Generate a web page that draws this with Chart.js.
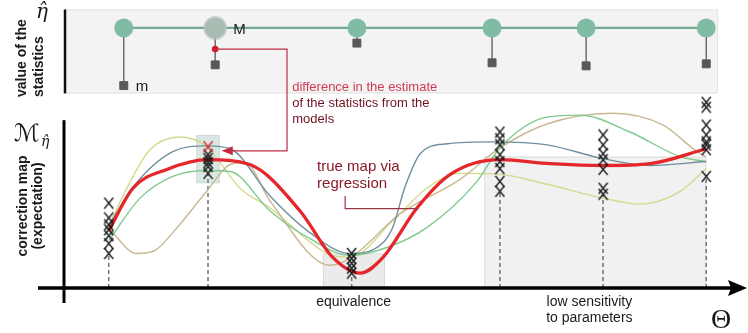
<!DOCTYPE html>
<html>
<head>
<meta charset="utf-8">
<script src="https://cdn.jsdelivr.net/npm/chart.js@4/dist/chart.umd.min.js"></script>
<style>
  html, body { margin: 0; padding: 0; background: #fff; }
  canvas { display: block; }
</style>
</head>
<body>
<canvas id="myChart" width="748" height="333"></canvas>
<script>
// parameter values where the models were run, and the replicas of the correction at each
const thetaSamples = [6.7, 21.9, 43.9, 66.6, 82.4, 98.2];
const replicaValues = [
    [49.7, 41.0, 37.0, 34.1, 30.6, 26.0, 20.2],
    [78.0, 75.7, 73.4, 71.1, 67.1],
    [20.2, 17.3, 14.5, 11.6, 8.7],
    [91.3, 87.3, 83.8, 78.0, 74.0, 69.9, 62.4, 56.6],
    [89.6, 83.8, 78.6, 75.1, 69.4, 58.4, 54.9],
    [108.7, 105.8, 95.4, 89.6, 85.5, 83.8, 80.9, 65.3]
];
const flaggedReplica = [21.9, 82.7];

// true map via regression  [theta, value]
const trueMap = [[6.7, 33.5], [10.4, 58.4], [15.6, 69.4], [21.9, 75.1], [28.3, 72.3], [36.0, 45.1],
    [41.0, 17.9], [45.2, 8.7], [48.7, 17.9], [53.9, 46.8], [59.0, 66.5], [66.6, 75.1],
    [74.3, 72.8], [82.4, 71.7], [89.6, 72.8], [98.2, 81.5]];

// single model fits
const fitSlate = [[6.7, 36.4], [10.4, 59.0], [16.5, 79.8], [21.7, 83.2], [25.3, 81.5], [31.4, 53.8],
    [37.5, 32.4], [43.6, 20.2], [47.5, 23.1], [50.1, 34.7], [52.1, 59.5], [54.4, 78.6],
    [58.5, 84.4], [65.5, 85.5], [73.8, 83.8], [82.4, 75.7], [89.6, 71.7], [98.2, 74.0]];
const fitGreen = [[6.7, 27.7], [11.5, 52.6], [16.5, 65.3], [21.7, 68.8], [25.3, 68.2], [31.4, 45.1],
    [37.5, 28.9], [43.6, 19.1], [49.3, 23.7], [55.4, 35.3], [63.1, 62.4], [66.6, 82.0],
    [73.8, 100.0], [78.9, 101.2], [86.5, 91.3], [94.2, 76.9], [98.2, 74.0]];
const fitSand = [[6.7, 34.7], [11.0, 20.2], [13.8, 22.0], [16.5, 32.4], [21.7, 56.6], [25.3, 72.3],
    [27.6, 73.4], [31.4, 50.9], [40.6, 13.3], [43.6, 17.3], [51.3, 43.4], [60.5, 63.6],
    [66.6, 82.0], [73.8, 96.0], [83.9, 102.3], [91.6, 95.4], [96.8, 79.8], [98.2, 76.9]];
const fitPale = [[6.7, 36.4], [10.0, 62.4], [13.0, 80.9], [17.6, 88.4], [21.7, 82.7], [26.8, 58.4],
    [31.4, 46.8], [40.1, 20.2], [43.6, 17.9], [50.2, 39.3], [55.4, 58.4], [60.5, 67.1],
    [66.6, 66.5], [73.8, 60.7], [82.4, 52.6], [88.1, 49.1], [94.2, 56.6], [98.2, 69.9]];

// value of the statistics (top panel)
const statTheta = [9.0, 23.0, 44.7, 65.4, 79.8, 98.2];
const statModels = [7.8, 7.8, 7.8, 7.8, 7.8, 7.8];   // M
const statData = [0.94, 3.41, 6.0, 3.65, 3.29, 3.53]; // m
const statDifference = [23.0, 5.29];

// shaded zones and their notes
const zones = [
    { from: 20.1, to: 23.7, low: 61.3, high: 89.6, fill: 'rgba(188,214,204,0.55)' },
    { from: 39.5, to: 49.0, low: 0, high: 20.2, fill: 'rgba(222,222,222,0.6)', text: ['equivalence'], at: 44.2 },
    { from: 64.2, to: 98.2, low: 0, high: 76.9, fill: 'rgba(228,228,228,0.5)', text: ['low sensitivity', 'to parameters'], at: 80.3 }
];

const pts = arr => arr.map(p => ({ x: p[0], y: p[1] }));
const replicaPoints = [];
thetaSamples.forEach((t, i) => replicaValues[i].forEach(v => replicaPoints.push({ x: t, y: v })));

// tall "X" marker like the hand drawn crosses
function crossMark(color) {
    const c = document.createElement('canvas');
    c.width = 11; c.height = 13;
    const g = c.getContext('2d');
    g.strokeStyle = color;
    g.lineWidth = 1.3;
    g.beginPath();
    g.moveTo(1, 1); g.lineTo(10, 12);
    g.moveTo(10, 1); g.lineTo(1, 12);
    g.stroke();
    return c;
}

const fitLine = (label, data, color) => ({
    label, data: pts(data), borderColor: color, borderWidth: 1.4,
    pointRadius: 0, cubicInterpolationMode: 'monotone', fill: false, order: 5
});

function seg(ctx, pts, close) {
    ctx.beginPath();
    ctx.moveTo(pts[0][0], pts[0][1]);
    for (let i = 1; i < pts.length; i++) ctx.lineTo(pts[i][0], pts[i][1]);
    if (close) ctx.closePath();
}

const decor = {
    id: 'decor',
    beforeDatasetsDraw(chart) {
        const { ctx } = chart;
        const x = chart.scales.x, y = chart.scales.y, yt = chart.scales.yTop;
        ctx.save();
        // panel of the statistics
        const top = yt.getPixelForValue(10), bot = yt.getPixelForValue(0);
        ctx.fillStyle = '#f3f3f3';
        ctx.fillRect(x.left, top, x.right - x.left, bot - top);
        ctx.strokeStyle = '#e3e3e3';
        ctx.lineWidth = 1;
        ctx.strokeRect(x.left + 0.5, top + 0.5, x.right - x.left - 1, bot - top - 1);
        ctx.strokeStyle = '#111';
        ctx.lineWidth = 2.5;
        seg(ctx, [[x.left, top], [x.left, bot]]);
        ctx.stroke();
        // M -> m stems
        ctx.strokeStyle = '#5a5a5a';
        ctx.lineWidth = 1.3;
        statTheta.forEach((t, i) => {
            const xp = x.getPixelForValue(t);
            seg(ctx, [[xp, yt.getPixelForValue(statModels[i])], [xp, yt.getPixelForValue(statData[i])]]);
            ctx.stroke();
        });
        // zones
        zones.forEach(z => {
            const l = x.getPixelForValue(z.from), r = x.getPixelForValue(z.to);
            const t = y.getPixelForValue(z.high), b = y.getPixelForValue(z.low);
            ctx.fillStyle = z.fill;
            ctx.fillRect(l, t, r - l, b - t);
            ctx.strokeStyle = 'rgba(205,205,205,0.6)';
            ctx.lineWidth = 1;
            ctx.strokeRect(l + 0.5, t + 0.5, r - l - 1, b - t - 1);
        });
        // dashed guides from axis up to replicas
        ctx.strokeStyle = '#7a7a7a';
        ctx.lineWidth = 1.6;
        ctx.setLineDash([4, 3]);
        thetaSamples.forEach((t, i) => {
            const xp = x.getPixelForValue(t);
            seg(ctx, [[xp, y.getPixelForValue(0)], [xp, y.getPixelForValue(Math.min(...replicaValues[i]))]]);
            ctx.stroke();
        });
        ctx.restore();
    },
    afterDatasetsDraw(chart) {
        const { ctx } = chart;
        const x = chart.scales.x, y = chart.scales.y, yt = chart.scales.yTop;
        ctx.save();
        const y0 = y.getPixelForValue(0);
        // axes
        ctx.strokeStyle = '#000';
        ctx.fillStyle = '#000';
        ctx.lineWidth = 3;
        seg(ctx, [[x.left - 1, y.getPixelForValue(100) + 3], [x.left - 1, y0 + 15]]);
        ctx.stroke();
        ctx.lineWidth = 3.5;
        seg(ctx, [[38, y0], [732, y0]]);
        ctx.stroke();
        seg(ctx, [[747, y0], [728, y0 - 8], [731, y0], [728, y0 + 8]], true);
        ctx.fill();

        // difference connector
        const dx = x.getPixelForValue(statDifference[0]), dy = yt.getPixelForValue(statDifference[1]);
        const cx = x.getPixelForValue(34.0), cy = y.getPixelForValue(80.3);
        const tip = x.getPixelForValue(24.0);
        ctx.strokeStyle = '#c42a44';
        ctx.fillStyle = '#c42a44';
        ctx.lineWidth = 1.2;
        seg(ctx, [[dx, dy], [cx, dy], [cx, cy], [tip + 6, cy]]);
        ctx.stroke();
        seg(ctx, [[tip, cy], [tip + 11, cy - 4.5], [tip + 11, cy + 4.5]], true);
        ctx.fill();

        // regression connector
        const rx = x.getPixelForValue(42.9);
        ctx.strokeStyle = '#9a3646';
        seg(ctx, [[rx, y.getPixelForValue(53.8)], [rx, y.getPixelForValue(46.4)], [x.getPixelForValue(54.1), y.getPixelForValue(46.4)]]);
        ctx.stroke();

        // notes
        ctx.textBaseline = 'alphabetic';
        ctx.textAlign = 'left';
        ctx.font = '13px "Liberation Sans", Arial, sans-serif';
        const nx = x.getPixelForValue(34.8), ny = yt.getPixelForValue(0.35);
        ctx.fillStyle = '#d03a55';
        ctx.fillText('difference in the estimate', nx, ny);
        ctx.fillStyle = '#6e1222';
        ctx.fillText('of the statistics from the', nx, ny + 16);
        ctx.fillText('models', nx, ny + 32);

        ctx.font = '15px "Liberation Sans", Arial, sans-serif';
        ctx.fillStyle = '#8a1a2c';
        const tx = x.getPixelForValue(38.6), ty = y.getPixelForValue(68.2);
        ctx.fillText('true map via', tx, ty);
        ctx.fillText('regression', tx, ty + 17);

        ctx.fillStyle = '#1a1a1a';
        ctx.font = '14px "Liberation Sans", Arial, sans-serif';
        ctx.textAlign = 'center';
        zones.forEach(z => {
            if (!z.text) return;
            z.text.forEach((s, k) => ctx.fillText(s, x.getPixelForValue(z.at), y0 + 18 + k * 16));
        });

        ctx.font = '28px "Liberation Serif", "DejaVu Serif", serif';
        ctx.fillText('\u0398', 721, y0 + 40);

        // top panel labels
        ctx.font = '15px "Liberation Sans", Arial, sans-serif';
        ctx.textAlign = 'left';
        ctx.fillText('M', x.getPixelForValue(statTheta[1]) + 18, yt.getPixelForValue(statModels[1]) + 6);
        ctx.fillText('m', x.getPixelForValue(statTheta[0]) + 12, yt.getPixelForValue(statData[0]) + 5);

        // axis titles
        ctx.font = 'italic 20px "DejaVu Serif", serif';
        ctx.fillText('\u03b7\u0302', 36, 18);
        ctx.font = '24px "DejaVu Sans", serif';
        ctx.fillText('\u2133', 14, 141);
        ctx.font = 'italic 14px "DejaVu Serif", serif';
        ctx.fillText('\u03b7\u0302', 41, 146);

        ctx.font = 'bold 14px "Liberation Sans", Arial, sans-serif';
        const rot = (s, bx, by, align) => {
            ctx.save();
            ctx.translate(bx, by);
            ctx.rotate(-Math.PI / 2);
            ctx.textAlign = align;
            ctx.fillText(s, 0, 0);
            ctx.restore();
        };
        rot('value of the', 26, 97, 'left');
        rot('statistics', 43, 97, 'left');
        rot('correction map', 27, 206, 'center');
        rot('(expectation)', 42, 206, 'center');
        ctx.restore();
    }
};

const ctx = document.getElementById('myChart').getContext('2d');
const myChart = new Chart(ctx, {
    type: 'line',
    data: {
        datasets: [
            {
                type: 'scatter', label: 'flagged replica', data: [{ x: flaggedReplica[0], y: flaggedReplica[1] }],
                pointStyle: crossMark('#d8262e'), order: 0
            },
            {
                type: 'scatter', label: 'replicas', data: replicaPoints,
                pointStyle: crossMark('#151515'), order: 1
            },
            {
                label: 'true map', data: pts(trueMap), borderColor: '#e5262b', borderWidth: 3.3,
                pointRadius: 0, cubicInterpolationMode: 'monotone', fill: false, order: 2
            },
            fitLine('model A', fitSlate, '#6f8f9c'),
            fitLine('model B', fitGreen, '#7ec98e'),
            fitLine('model C', fitSand, '#c9b894'),
            fitLine('model D', fitPale, '#d6d98e'),
            {
                type: 'scatter', label: 'difference', yAxisID: 'yTop',
                data: [{ x: statDifference[0], y: statDifference[1] }],
                pointRadius: 3, backgroundColor: '#d4202c', borderColor: '#d4202c', order: 0
            },
            {
                type: 'scatter', label: 'm', yAxisID: 'yTop',
                data: statTheta.map((t, i) => ({ x: t, y: statData[i] })),
                pointStyle: 'rect', pointRadius: 5.6, backgroundColor: '#585858', borderColor: '#585858', order: 1
            },
            {
                label: 'M', yAxisID: 'yTop',
                data: statTheta.map((t, i) => ({ x: t, y: statModels[i] })),
                borderColor: '#73aa93', borderWidth: 2.2,
                pointRadius: [9.5, 10.5, 9.5, 9.5, 9.5, 9.5],
                pointBackgroundColor: ['#80bba3', '#a8bcb2', '#80bba3', '#80bba3', '#80bba3', '#80bba3'],
                pointBorderColor: ['#80bba3', 'rgba(180,190,185,0.6)', '#80bba3', '#80bba3', '#80bba3', '#80bba3'],
                pointBorderWidth: [0, 3, 0, 0, 0, 0], order: 3
            }
        ]
    },
    options: {
        responsive: false,
        animation: false,
        events: [],
        clip: false,
        layout: { padding: { left: 65, right: 30, top: 6, bottom: 45 } },
        plugins: { legend: { display: false }, tooltip: { enabled: false } },
        scales: {
            x: { type: 'linear', min: 0, max: 100, display: false },
            y: { type: 'linear', position: 'left', stack: 'panels', stackWeight: 173, min: 0, max: 100, display: false },
            yTop: { type: 'linear', position: 'left', stack: 'panels', stackWeight: 109, min: -2.82, max: 10, display: false }
        }
    },
    plugins: [decor]
});
</script>
</body>
</html>
